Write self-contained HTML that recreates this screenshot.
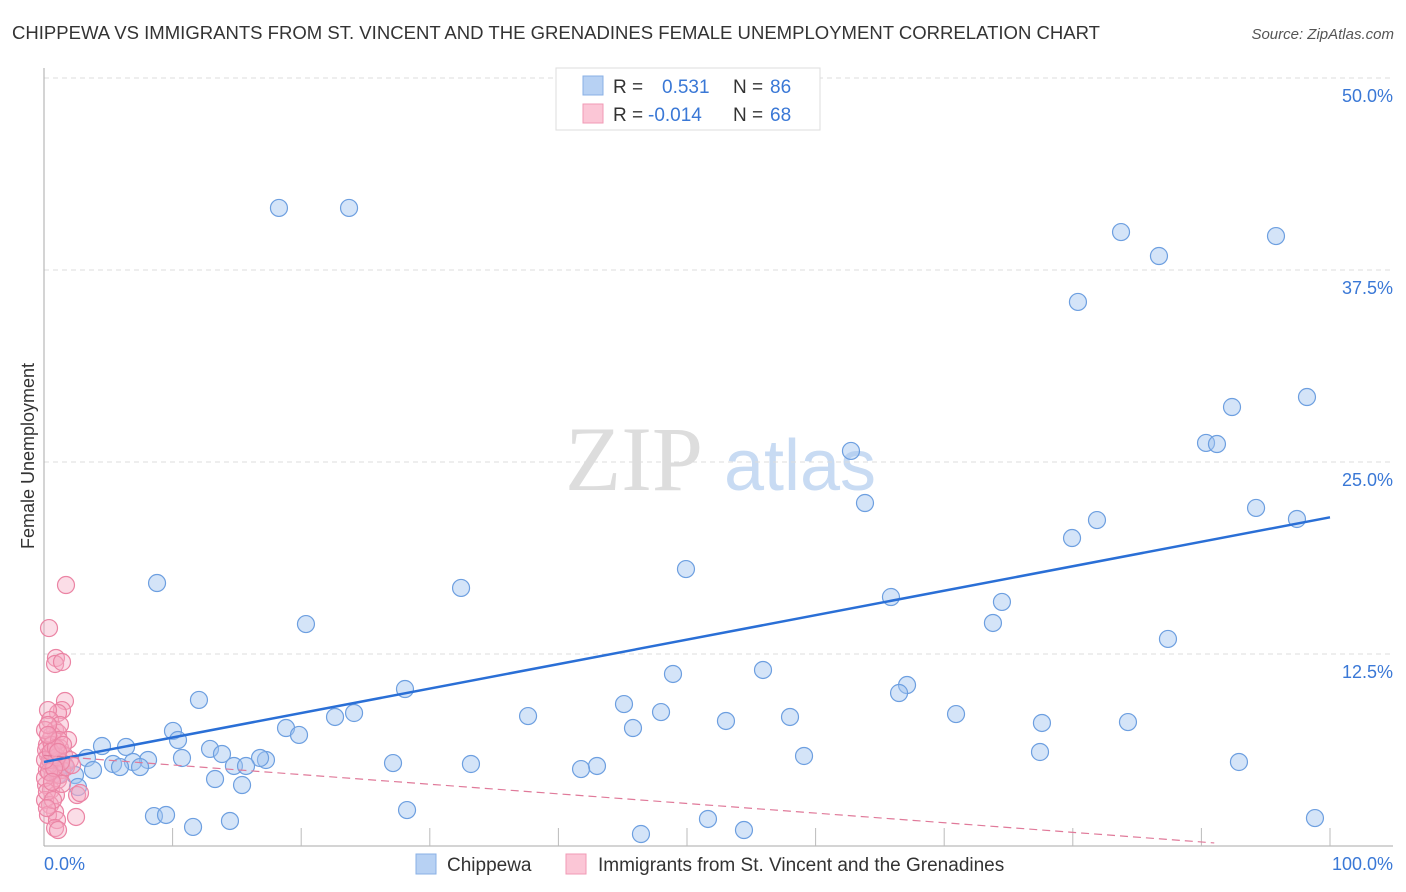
<!DOCTYPE html>
<html><head><meta charset="utf-8"><style>
body{margin:0;background:#fff;font-family:"Liberation Sans",sans-serif;}
svg{display:block}
</style></head><body>
<svg width="1406" height="892">
<text x="12" y="39" font-size="18" fill="#333" textLength="1088" lengthAdjust="spacingAndGlyphs">CHIPPEWA VS IMMIGRANTS FROM ST. VINCENT AND THE GRENADINES FEMALE UNEMPLOYMENT CORRELATION CHART</text>
<text x="1394" y="39" font-size="15" fill="#555" font-style="italic" text-anchor="end">Source: ZipAtlas.com</text>
<g>
<text x="634" y="490" font-size="92" fill="#ddd" text-anchor="middle" font-family="Liberation Serif,serif">ZIP</text>
<text x="800" y="490" font-size="72" fill="#c8dbf3" text-anchor="middle">atlas</text>
</g>
<g id="grid"></g>
<g id="axes"></g>
<g id="marks"></g>
<text transform="translate(34,456) rotate(-90)" font-size="18" fill="#333" text-anchor="middle">Female Unemployment</text>
<text x="44" y="870" font-size="18" fill="#3a78d6">0.0%</text>
<text x="1393" y="870" font-size="18" fill="#3a78d6" text-anchor="end">100.0%</text>
<g>
<rect x="556" y="68" width="264" height="62" fill="#fff" stroke="#ddd"/>
<rect x="583" y="76" width="20" height="19" fill="#b7d1f3" stroke="#8ab0e6"/>
<rect x="583" y="104" width="20" height="19" fill="#fbc6d6" stroke="#f09ab5"/>
<text x="613" y="93" font-size="19" fill="#333">R =</text>
<text x="662" y="93" font-size="19" fill="#3a78d6">0.531</text>
<text x="733" y="93" font-size="19" fill="#333">N =</text>
<text x="770" y="93" font-size="19" fill="#3a78d6">86</text>
<text x="613" y="121" font-size="19" fill="#333">R =</text>
<text x="648" y="121" font-size="19" fill="#3a78d6">-0.014</text>
<text x="733" y="121" font-size="19" fill="#333">N =</text>
<text x="770" y="121" font-size="19" fill="#3a78d6">68</text>
</g>
<g>
<rect x="416" y="854" width="20" height="20" fill="#b7d1f3" stroke="#8ab0e6"/>
<text x="447" y="871" font-size="19" fill="#333">Chippewa</text>
<rect x="566" y="854" width="20" height="20" fill="#fbc6d6" stroke="#f09ab5"/>
<text x="598" y="871" font-size="19" fill="#333">Immigrants from St. Vincent and the Grenadines</text>
</g>
</svg>
<script>
const yTicks=[12.5,25,37.5,50];
const yTickLabels=["12.5%","25.0%","37.5%","50.0%"];
const xTicks=[10,20,30,40,50,60,70,80,90,100];
const bluePx=[[279,208],[349,208],[1121,232],[1159,256],[1276,236],[1078,302],[1232,407],[1307,397],[1206,443],[1217,444],[851,451],[865,503],[1256,508],[1097,520],[1297,519],[1072,538],[686,569],[157,583],[461,588],[891,597],[1002,602],[306,624],[993,623],[1168,639],[673,674],[763,670],[405,689],[907,685],[899,693],[199,700],[624,704],[528,716],[661,712],[335,717],[354,713],[956,714],[790,717],[726,721],[1042,723],[1128,722],[286,728],[173,731],[633,728],[299,735],[178,740],[102,746],[126,747],[210,749],[222,754],[1040,752],[804,756],[182,758],[266,760],[87,758],[148,760],[260,758],[133,762],[113,764],[393,763],[471,764],[1239,762],[597,766],[581,769],[234,766],[246,766],[120,767],[140,767],[93,770],[75,775],[215,779],[242,785],[78,787],[407,810],[154,816],[166,815],[193,827],[230,821],[641,834],[708,819],[744,830],[1315,818],[60,766],[55,770],[65,765],[50,760],[58,775]];
const pinkPx=[[66,585],[49,628],[56,658],[55,664],[62,662],[65,701],[62,710],[58,713],[48,710],[50,720],[55,730],[58,733],[68,740],[50,740],[60,748],[48,755],[52,760],[56,765],[64,755],[70,760],[47,770],[53,775],[58,780],[62,770],[46,785],[51,790],[56,795],[77,795],[60,775],[45,800],[50,805],[55,812],[48,815],[57,820],[76,817],[55,828],[58,830],[47,745],[52,735],[60,725],[53,750],[49,765],[45,778],[66,767],[72,765],[80,793],[50,760],[54,755],[45,730],[48,725],[46,750],[52,745],[57,757],[61,762],[49,772],[54,768],[59,740],[47,792],[53,800],[62,784],[45,760],[51,752],[56,748],[48,735],[63,745],[58,752],[52,782],[47,808]];
const chippewaX=bluePx.map(p=>+((p[0]-44)/1286*100).toFixed(2));
const chippewaY=bluePx.map(p=>+((846-p[1])/192*12.5).toFixed(2));
const immigrantsX=pinkPx.map(p=>+((p[0]-44)/1286*100).toFixed(2));
const immigrantsY=pinkPx.map(p=>+((846-p[1])/192*12.5).toFixed(2));
const blueTrend=[[0,5.47],[100,21.4]];
const pinkTrend=[[0,5.9],[91,0.2]];
const X0=44,X1=1330,Y0=846,PPY=192/12.5;
const sx=v=>X0+v/100*(X1-X0);
const sy=v=>Y0-v*PPY;
const NS="http://www.w3.org/2000/svg";
function mk(t,a,parent){const e=document.createElementNS(NS,t);for(const k in a)e.setAttribute(k,a[k]);parent.appendChild(e);return e;}
const grid=document.getElementById('grid'),axes=document.getElementById('axes'),marks=document.getElementById('marks');
yTicks.forEach((v,i)=>{
 const l=mk('line',{x1:44,x2:1393,y1:sy(v),y2:sy(v),stroke:'#ddd','stroke-dasharray':'5,4'},grid);
 
 
 const t=mk('text',{x:1393,y:sy(v)+24,'font-size':18,fill:'#3a78d6','text-anchor':'end'},grid);
 t.textContent=yTickLabels[i];
 
 
});
const ya=mk('line',{x1:44,x2:44,y1:68,y2:846,stroke:'#aaa'},axes);


const xa=mk('line',{x1:44,x2:1393,y1:846,y2:846,stroke:'#aaa'},axes);


xTicks.forEach(v=>{
 const t=mk('line',{x1:sx(v),x2:sx(v),y1:828,y2:846,stroke:'#bbb'},axes);
 
 
});
chippewaX.forEach((x,i)=>{
 const c=mk('circle',{cx:sx(x),cy:sy(chippewaY[i]),r:8.5,fill:'rgba(160,196,240,0.45)',stroke:'#6d9fe0','stroke-width':1.2},marks);
 
 
});
immigrantsX.forEach((x,i)=>{
 const c=mk('circle',{cx:sx(x),cy:sy(immigrantsY[i]),r:8.5,fill:'rgba(246,170,196,0.4)',stroke:'#eb84a4','stroke-width':1.2},marks);
 
 
});
const bl=mk('line',{x1:sx(blueTrend[0][0]),y1:sy(blueTrend[0][1]),x2:sx(blueTrend[1][0]),y2:sy(blueTrend[1][1]),stroke:'#2a6fd6','stroke-width':2.5},marks);


const pl=mk('line',{x1:sx(pinkTrend[0][0]),y1:sy(pinkTrend[0][1]),x2:sx(pinkTrend[1][0]),y2:sy(pinkTrend[1][1]),stroke:'#e07a9a','stroke-width':1.2,'stroke-dasharray':'8,5'},marks);


</script>
</body></html>
